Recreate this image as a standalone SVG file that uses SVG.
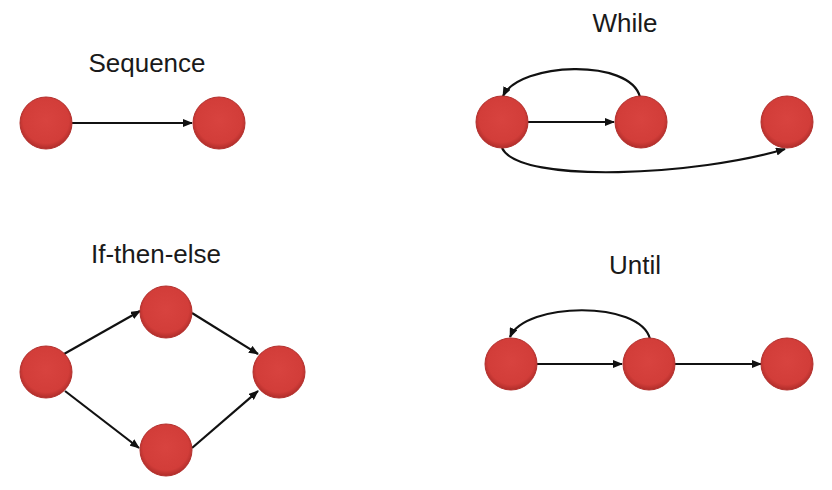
<svg xmlns="http://www.w3.org/2000/svg" width="832" height="490" viewBox="0 0 832 490">
<defs>
<style>
.lbl{font-family:"Liberation Sans",Arial,sans-serif;font-size:26px;fill:#1a1a1a;text-anchor:middle}
.node{fill:url(#g);stroke:#b3302d;stroke-width:1}
.edge{fill:none;stroke:#111;stroke-width:2.2}
</style>
<radialGradient id="g" cx="50%" cy="45%" r="55%">
<stop offset="0" stop-color="#d8433f"/>
<stop offset="0.8" stop-color="#d23d39"/>
<stop offset="1" stop-color="#b02d2a"/>
</radialGradient>
<marker id="a" markerWidth="10" markerHeight="8" refX="9" refY="4" orient="auto" markerUnits="userSpaceOnUse">
<path d="M0,0 L10,4 L0,8 z" fill="#111"/>
</marker>
</defs>
<rect width="832" height="490" fill="#fff"/>
<g id="labels">
<text class="lbl" x="147" y="72">Sequence</text>
<text class="lbl" x="625" y="32">While</text>
<text class="lbl" x="156" y="263">If-then-else</text>
<text class="lbl" x="635" y="274">Until</text>
</g>
<g id="connectors">
<line class="edge" x1="72" y1="123" x2="192" y2="123" marker-end="url(#a)"/>
<line class="edge" x1="528" y1="122" x2="614" y2="122" marker-end="url(#a)"/>
<path class="edge" d="M640,97 C630,58 520,62 503,96" marker-end="url(#a)"/>
<path class="edge" d="M502,148 C520,185 700,175 785,149" marker-end="url(#a)"/>
<line class="edge" x1="64" y1="354" x2="140" y2="311" marker-end="url(#a)"/>
<line class="edge" x1="192" y1="313" x2="258" y2="354" marker-end="url(#a)"/>
<line class="edge" x1="65" y1="391" x2="139" y2="448" marker-end="url(#a)"/>
<line class="edge" x1="192" y1="448" x2="258" y2="391" marker-end="url(#a)"/>
<line class="edge" x1="537" y1="364" x2="622" y2="364" marker-end="url(#a)"/>
<line class="edge" x1="675" y1="364" x2="761" y2="364" marker-end="url(#a)"/>
<path class="edge" d="M650,339 C640,300 525,302 510,337" marker-end="url(#a)"/>
</g>
<g id="n-seq1"><circle class="node" cx="46" cy="123" r="26"/></g>
<g id="n-seq2"><circle class="node" cx="219" cy="123" r="26"/></g>
<g id="n-while1"><circle class="node" cx="502" cy="122" r="26"/></g>
<g id="n-while2"><circle class="node" cx="641" cy="122" r="26"/></g>
<g id="n-while3"><circle class="node" cx="787" cy="122" r="26"/></g>
<g id="n-if1"><circle class="node" cx="46" cy="372" r="26"/></g>
<g id="n-if2"><circle class="node" cx="166" cy="312" r="26"/></g>
<g id="n-if3"><circle class="node" cx="166" cy="450" r="26"/></g>
<g id="n-if4"><circle class="node" cx="279" cy="372" r="26"/></g>
<g id="n-until1"><circle class="node" cx="511" cy="364" r="26"/></g>
<g id="n-until2"><circle class="node" cx="649" cy="364" r="26"/></g>
<g id="n-until3"><circle class="node" cx="787" cy="364" r="26"/></g>
</svg>
